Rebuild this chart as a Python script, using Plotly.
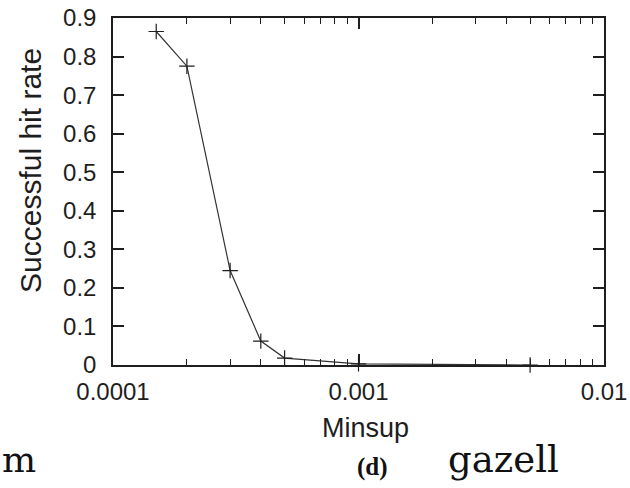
import plotly.graph_objects as go

# Data
minsup = [0.00015, 0.0002, 0.0003, 0.0004, 0.0005, 0.001, 0.005]
hit_rate = [0.865, 0.775, 0.245, 0.062, 0.018, 0.003, 0.0]

x_tick_vals = [0.0001, 0.001, 0.01]
x_tick_text = ["0.0001", "0.001", "0.01"]
y_tick_vals = [0, 0.1, 0.2, 0.3, 0.4, 0.5, 0.6, 0.7, 0.8, 0.9]
y_tick_text = ["0", "0.1", "0.2", "0.3", "0.4", "0.5", "0.6", "0.7", "0.8", "0.9"]
x_minor_vals = [k * 10.0 ** e for e in (-4, -3) for k in range(2, 10)]

INK = "#1e1e1e"
SANS = "Liberation Sans, Arial, sans-serif"

fig = go.Figure()
fig.add_trace(go.Scatter(
    x=minsup, y=hit_rate, mode="lines+markers",
    line=dict(color="#333333", width=1.2),
    marker=dict(symbol="cross-thin", size=11, line=dict(color=INK, width=1.2)),
    cliponaxis=False, showlegend=False, hoverinfo="skip",
))

axis_common = dict(
    showline=True, linecolor=INK, linewidth=1.5, mirror="ticks",
    ticks="inside", ticklen=11, tickwidth=1.5, tickcolor=INK,
    showgrid=False, zeroline=False, automargin=False,
    ticklabeloverflow="allow",
    tickfont=dict(family=SANS, size=24, color=INK),
)

fig.update_xaxes(
    type="log", range=[-4, -2],
    tickmode="array", tickvals=x_tick_vals, ticktext=x_tick_text,
    minor=dict(tickmode="array", tickvals=x_minor_vals, ticks="inside",
               ticklen=6, tickwidth=1.3, tickcolor=INK, showgrid=False),
    ticklabelstandoff=4,
    **axis_common,
)
fig.update_yaxes(
    range=[0, 0.9],
    tickmode="array", tickvals=y_tick_vals, ticktext=y_tick_text,
    ticklabelstandoff=10,
    **axis_common,
)

def px_x(v):
    return (v - 113) / 491

def px_y(v):
    return (365 - v) / 347

annotations = [
    dict(text="Successful hit rate", x=px_x(30), y=px_y(171), xref="paper", yref="paper",
         textangle=-90, showarrow=False, xanchor="center", yanchor="middle",
         font=dict(family=SANS, size=30, color=INK)),
    dict(text="Minsup", x=px_x(365), y=px_y(428), xref="paper", yref="paper",
         showarrow=False, xanchor="center", yanchor="middle",
         font=dict(family=SANS, size=27, color=INK)),
    dict(text="m", x=px_x(0), y=px_y(460), xref="paper", yref="paper",
         showarrow=False, xanchor="left", yanchor="middle",
         font=dict(family="DejaVu Serif, serif", size=36, color="#111111")),
    dict(text="<b>(d)</b>", x=px_x(372), y=px_y(467), xref="paper", yref="paper",
         showarrow=False, xanchor="center", yanchor="middle",
         font=dict(family="Liberation Serif, serif", size=25, color="#111111")),
    dict(text="gazell", x=px_x(446), y=px_y(460), xref="paper", yref="paper",
         showarrow=False, xanchor="left", yanchor="middle",
         font=dict(family="DejaVu Serif, serif", size=37, color="#111111")),
]

fig.update_layout(
    width=630, height=488,
    margin=dict(l=113, r=26, t=18, b=123, autoexpand=False),
    paper_bgcolor="white", plot_bgcolor="white",
    annotations=annotations,
)

# Remove the page's default 8px body margin so the figure fills the window.
fig.write_html(
    "out.html",
    config={"displayModeBar": False},
    post_script="document.body.style.margin='0';document.body.style.overflow='hidden';",
)
